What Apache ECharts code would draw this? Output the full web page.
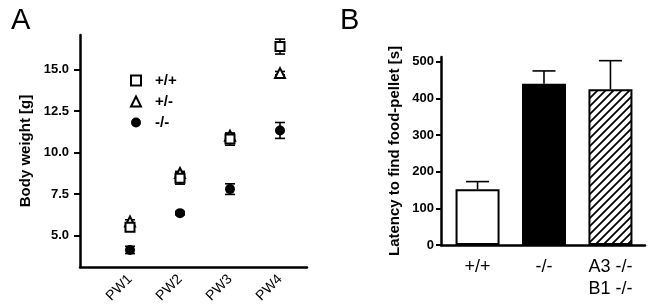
<!DOCTYPE html>
<html>
<head>
<meta charset="utf-8">
<script src="https://cdn.jsdelivr.net/npm/echarts@6/dist/echarts.min.js"></script>
<style>
  html, body { margin: 0; padding: 0; background: #fff; }
  #chart { width: 649px; height: 306px; }
</style>
</head>
<body>
<div id="chart"></div>
<script>
// panel A: body weight per postnatal week
const weeks = ['PW1', 'PW2', 'PW3', 'PW4'];
const wtMean = [5.5, 8.45, 10.82, 16.4];
const wtErr = [0.2, 0.35, 0.37, 0.45];
const hetMean = [5.85, 8.77, 11.02, 14.8];
const hetErr = [0.1, 0.1, 0.12, 0.1];
const koMean = [4.13, 6.35, 7.8, 11.34];
const koErr = [0.22, 0.1, 0.32, 0.48];
const yTicksA = [5, 7.5, 10, 12.5, 15];

// panel B: latency to find the food pellet
const groups = ['+/+', '-/-', 'A3 -/-\nB1 -/-'];
const latency = [152, 440, 425];
const latencyErr = [21, 35, 78];
const yTicksB = [0, 100, 200, 300, 400, 500];

const FONT = "'Liberation Sans', Arial, sans-serif";

// diagonal hatch for the third bar
function hatch() {
  const c = document.createElement('canvas');
  c.width = 8; c.height = 8;
  const ctx = c.getContext('2d');
  ctx.fillStyle = '#fff';
  ctx.fillRect(0, 0, 8, 8);
  ctx.strokeStyle = '#000';
  ctx.lineWidth = 1.8;
  ctx.beginPath();
  ctx.moveTo(0, 8); ctx.lineTo(8, 0);
  ctx.moveTo(-2, 2); ctx.lineTo(2, -2);
  ctx.moveTo(6, 10); ctx.lineTo(10, 6);
  ctx.stroke();
  return c;
}

function errorBars(axis, means, errs, capW, upOnly, z) {
  return {
    type: 'custom',
    xAxisIndex: axis,
    yAxisIndex: axis,
    silent: true,
    z: z,
    data: means.map((m, i) => [i + 1, upOnly ? m : m - errs[i], m + errs[i]]),
    encode: { x: 0, y: [1, 2] },
    renderItem: function (params, api) {
      const lo = api.coord([api.value(0), api.value(1)]);
      const hi = api.coord([api.value(0), api.value(2)]);
      const h = capW / 2;
      const st = { stroke: '#000', lineWidth: 1.6 };
      const kids = [
        { type: 'line', shape: { x1: lo[0], y1: lo[1], x2: hi[0], y2: hi[1] }, style: st },
        { type: 'line', shape: { x1: hi[0] - h, y1: hi[1], x2: hi[0] + h, y2: hi[1] }, style: st }
      ];
      if (!upOnly) {
        kids.push({ type: 'line', shape: { x1: lo[0] - h, y1: lo[1], x2: lo[0] + h, y2: lo[1] }, style: st });
      }
      return { type: 'group', children: kids };
    }
  };
}

const chart = echarts.init(document.getElementById('chart'));

const axisLine = { lineStyle: { color: '#000', width: 2.5 } };

option = {
  animation: false,
  backgroundColor: '#fff',
  textStyle: { fontFamily: FONT },
  title: [
    { text: 'A', left: 6, top: 1, textStyle: { fontSize: 29, fontWeight: 'normal', color: '#000', fontFamily: FONT } },
    { text: 'B', left: 335, top: 1, textStyle: { fontSize: 29, fontWeight: 'normal', color: '#000', fontFamily: FONT } }
  ],
  legend: {
    data: ['+/+', '+/-', '-/-'],
    orient: 'vertical',
    left: 125,
    top: 68,
    itemWidth: 10,
    itemHeight: 10,
    itemGap: 6,
    selectedMode: false,
    textStyle: { fontSize: 15, fontWeight: 'bold', color: '#000', fontFamily: FONT, padding: [0, 0, 0, 9] }
  },
  grid: [
    { left: 80, top: 35, width: 227, height: 232 },
    { left: 441, top: 57, width: 204, height: 188 }
  ],
  xAxis: [
    {
      type: 'value', gridIndex: 0, min: 0, max: 4.54,
      axisLine: axisLine,
      axisTick: { show: false },
      splitLine: { show: false },
      axisLabel: {
        customValues: [1, 2, 3, 4],
        formatter: v => weeks[Math.round(v) - 1],
        rotate: 45, margin: 10, fontSize: 14, color: '#000', fontFamily: FONT
      }
    },
    {
      type: 'value', gridIndex: 1, min: 0.45, max: 3.52,
      axisLine: axisLine,
      axisTick: { show: false },
      splitLine: { show: false },
      axisLabel: {
        customValues: [1, 2, 3],
        formatter: v => groups[Math.round(v) - 1],
        margin: 11, fontSize: 18, lineHeight: 22, color: '#000', fontFamily: FONT
      }
    }
  ],
  yAxis: [
    {
      type: 'value', gridIndex: 0, min: 3.1, max: 17.1,
      name: 'Body weight [g]', nameLocation: 'middle', nameGap: 47,
      nameTextStyle: { fontSize: 15, fontWeight: 'bold', color: '#000', fontFamily: FONT },
      axisLine: axisLine,
      axisTick: { customValues: yTicksA, length: 6, lineStyle: { color: '#000', width: 2 } },
      splitLine: { show: false },
      axisLabel: {
        customValues: yTicksA,
        formatter: v => v.toFixed(1),
        margin: 11, fontSize: 13, fontWeight: 'bold', color: '#000', fontFamily: FONT
      }
    },
    {
      type: 'value', gridIndex: 1, min: 0, max: 513,
      name: 'Latency to find food-pellet [s]', nameLocation: 'middle', nameGap: 39,
      nameTextStyle: { fontSize: 15, fontWeight: 'bold', color: '#000', fontFamily: FONT },
      axisLine: axisLine,
      axisTick: { customValues: yTicksB, length: 5, lineStyle: { color: '#000', width: 2 } },
      splitLine: { show: false },
      axisLabel: {
        customValues: yTicksB,
        margin: 7, fontSize: 13, fontWeight: 'bold', color: '#000', fontFamily: FONT
      }
    }
  ],
  series: [
    errorBars(0, wtMean, wtErr, 10, false, 1),
    errorBars(0, hetMean, hetErr, 10, false, 1),
    errorBars(0, koMean, koErr, 10, false, 1),
    {
      name: '+/-', type: 'scatter', xAxisIndex: 0, yAxisIndex: 0, z: 2,
      symbol: 'triangle', symbolSize: 10,
      itemStyle: { color: '#fff', borderColor: '#000', borderWidth: 2, opacity: 1 },
      data: hetMean.map((v, i) => [i + 1, v])
    },
    {
      name: '+/+', type: 'scatter', xAxisIndex: 0, yAxisIndex: 0, z: 3,
      symbol: 'rect', symbolSize: 9,
      itemStyle: { color: '#fff', borderColor: '#000', borderWidth: 2, opacity: 1 },
      data: wtMean.map((v, i) => [i + 1, v])
    },
    {
      name: '-/-', type: 'scatter', xAxisIndex: 0, yAxisIndex: 0, z: 4,
      symbol: 'circle', symbolSize: 10,
      itemStyle: { color: '#000', opacity: 1 },
      data: koMean.map((v, i) => [i + 1, v])
    },
    {
      type: 'bar', xAxisIndex: 1, yAxisIndex: 1, barWidth: 44, z: 2, silent: true,
      data: latency.map((v, i) => ({
        value: [i + 1, v],
        itemStyle: {
          color: i === 0 ? '#fff' : i === 1 ? '#000' : { image: hatch(), repeat: 'repeat' },
          borderColor: '#000',
          borderWidth: 2
        }
      }))
    },
    errorBars(1, latency, latencyErr, 23, true, 3)
  ]
};

chart.setOption(option);
</script>
</body>
</html>
